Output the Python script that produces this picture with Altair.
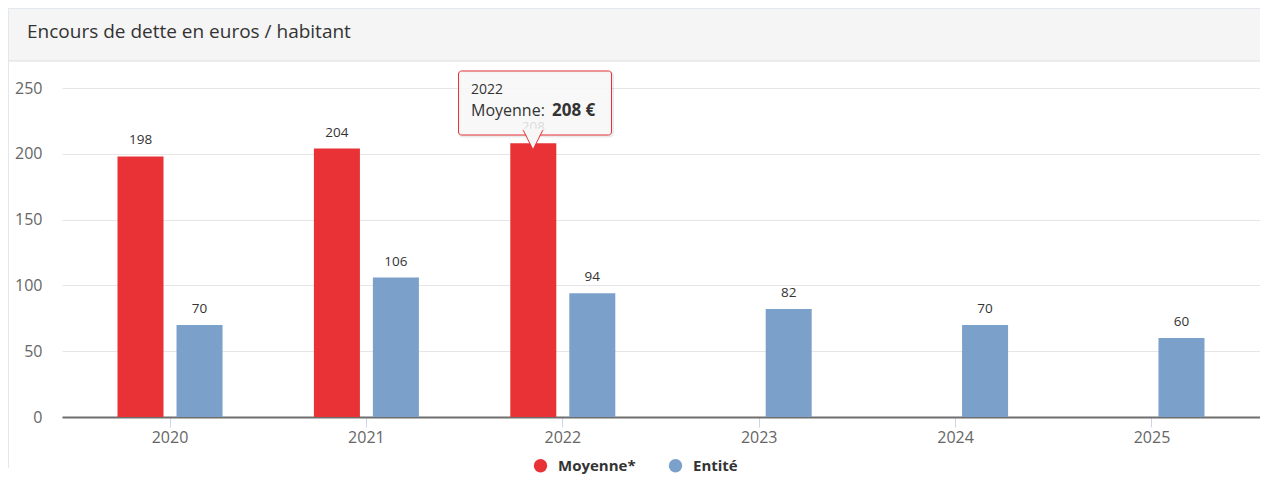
import altair as alt
import pandas as pd

# ---- data ----
years = ["2020", "2021", "2022", "2023", "2024", "2025"]
moyenne = [198, 204, 208, None, None, None]
entite = [70, 106, 94, 82, 70, 60]
series = ["Moyenne*", "Entité"]
colors = ["#e83236", "#7ba0c9"]
y_ticks = [0, 50, 100, 150, 200, 250]
title_text = "Encours de dette en euros / habitant"
tooltip_year = "2022"
tooltip_label = "Moyenne: "
tooltip_value = "208 €"

rows = []
for yr, m, e in zip(years, moyenne, entite):
    if m is not None:
        rows.append({"year": yr, "serie": series[0], "value": m})
    rows.append({"year": yr, "serie": series[1], "value": e})
df = pd.DataFrame(rows)
one = pd.DataFrame({"k": [0]})

W, H = 1198, 329
FONT = "Open Sans"

x = alt.X(
    "year:N", sort=years,
    scale=alt.Scale(paddingInner=0, paddingOuter=0.05),
    axis=alt.Axis(title=None, labelAngle=0, domainColor="#6e6e6e", domainWidth=2,
                  tickColor="#ccd6eb", tickSize=10, labelPadding=2,
                  labelColor="#666666", labelFontSize=16, labelFont=FONT, grid=False),
)
xo = alt.XOffset("serie:N", sort=series,
                 scale=alt.Scale(domain=series, paddingInner=0.22, paddingOuter=0.7745))
y = alt.Y(
    "value:Q",
    scale=alt.Scale(domain=[0, 250], nice=False),
    axis=alt.Axis(title=None, values=y_ticks, grid=True, gridColor="#e6e6e6",
                  domain=False, ticks=False, labelPadding=20, labelColor="#666666",
                  labelFontSize=16, labelFont=FONT),
)
color = alt.Color(
    "serie:N", sort=series,
    scale=alt.Scale(domain=series, range=colors),
    legend=alt.Legend(orient="none", legendX=471, legendY=370, direction="horizontal",
                      title=None, symbolType="circle", symbolSize=180, symbolStrokeWidth=0,
                      labelFontSize=15, labelFontWeight="bold", labelColor="#333333",
                      labelFont=FONT, labelOffset=10, columnPadding=32, padding=0),
)

# panel decoration
header = alt.Chart(one).mark_rect(fill="#f5f5f5").encode(
    x=alt.value(-54), x2=alt.value(1198), y=alt.value(-80), y2=alt.value(-27))
header_line = alt.Chart(one).mark_rule(color="#dddddd", strokeWidth=1).encode(
    x=alt.value(-54), x2=alt.value(1198), y=alt.value(-27))
top_line = alt.Chart(one).mark_rule(color="#e3e8ee", strokeWidth=1).encode(
    x=alt.value(-54), x2=alt.value(1198), y=alt.value(-79.5))
left_line = alt.Chart(one).mark_rule(color="#e3e8ee", strokeWidth=1).encode(
    x=alt.value(-53.5), y=alt.value(-80), y2=alt.value(380))
title = alt.Chart(pd.DataFrame({"t": [title_text]})).mark_text(
    align="left", baseline="middle", fontSize=19, font=FONT, color="#333333").encode(
    x=alt.value(-35), y=alt.value(-56), text="t:N")

bars = alt.Chart(df).mark_bar().encode(x=x, xOffset=xo, y=y, color=color)
labels = alt.Chart(df).mark_text(dy=-16, fontSize=13.5, font=FONT, color="#333333").encode(
    x=x, xOffset=xo, y=y, text="value:Q")

# tooltip annotation
tip_shadow = alt.Chart(one).mark_rect(fill="none", stroke="#000000", strokeOpacity=0.08,
                                      strokeWidth=3, cornerRadius=3).encode(
    x=alt.value(397.5), x2=alt.value(550.5), y=alt.value(-16), y2=alt.value(48))
tip_box = alt.Chart(one).mark_rect(fill="#f7f7f7", fillOpacity=0.85, stroke="#e83236",
                                   strokeWidth=1, cornerRadius=3).encode(
    x=alt.value(396.5), x2=alt.value(549.5), y=alt.value(-17), y2=alt.value(47))
tip_fill = alt.Chart(one).mark_point(shape="M-1,-1.15L0,1L1,-1.15Z", filled=True,
                                     fill="#f7f7f7", fillOpacity=1, strokeWidth=0,
                                     size=380).encode(x=alt.value(471), y=alt.value(52))
tip_edge = alt.Chart(one).mark_point(shape="M-1,-1L0,1L1,-1", filled=False,
                                     stroke="#e83236", strokeWidth=1, opacity=1,
                                     size=380).encode(x=alt.value(471), y=alt.value(52))
tip_year = alt.Chart(pd.DataFrame({"t": [tooltip_year]})).mark_text(
    align="left", baseline="middle", fontSize=14, font=FONT, color="#333333").encode(
    x=alt.value(409), y=alt.value(2), text="t:N")
tip_label = alt.Chart(pd.DataFrame({"t": [tooltip_label]})).mark_text(
    align="left", baseline="middle", fontSize=16, font=FONT, color="#333333").encode(
    x=alt.value(409), y=alt.value(23), text="t:N")
tip_value = alt.Chart(pd.DataFrame({"t": [tooltip_value]})).mark_text(
    align="left", baseline="middle", fontSize=17, font=FONT, fontWeight="bold",
    color="#333333").encode(x=alt.value(490), y=alt.value(23), text="t:N")

chart = alt.layer(
    header, header_line, top_line, left_line, title,
    bars, labels,
    tip_shadow, tip_box, tip_fill, tip_edge, tip_year, tip_label, tip_value,
).properties(
    width=W, height=H,
    autosize=alt.AutoSizeParams(type="none"),
    padding={"left": 54, "top": 80, "right": 0, "bottom": 58},
    background="white",
).configure_view(stroke=None)

chart.save("out.html", embed_options={"renderer": "svg", "actions": False})
